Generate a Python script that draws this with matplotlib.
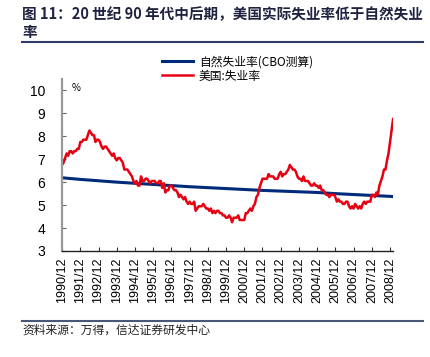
import numpy as np
import matplotlib
matplotlib.use("Agg")
import matplotlib.pyplot as plt
from matplotlib.lines import Line2D

plt.rcParams['font.family'] = ['Noto Sans CJK SC', 'DejaVu Sans']

# monthly data, 1990/12 .. 2009/02
red_1990 = [6.75]
red_1991 = [6.85, 7.05, 7.25, 7.15, 7.35, 7.35, 7.25, 7.35, 7.35, 7.45, 7.45, 7.75]
red_1992 = [7.75, 7.85, 7.85, 7.85, 8.05, 8.25, 8.15, 8.05, 8.05, 7.75, 7.85, 7.85]
red_1993 = [7.75, 7.55, 7.45, 7.55, 7.55, 7.45, 7.35, 7.25, 7.15, 7.25, 7.05, 6.95]
red_1994 = [7.05, 7.05, 6.95, 6.85, 6.55, 6.55, 6.55, 6.45, 6.35, 6.25, 6.05, 5.95]
red_1995 = [6.05, 5.85, 5.85, 6.25, 6.05, 6.05, 6.15, 6.15, 6.05, 5.95, 6.05, 6.05]
red_1996 = [6.05, 5.95, 5.95, 6.05, 6.05, 5.75, 5.95, 5.55, 5.65, 5.65, 5.85, 5.85]
red_1997 = [5.75, 5.65, 5.65, 5.55, 5.35, 5.45, 5.35, 5.25, 5.35, 5.15, 5.05, 5.15]
red_1998 = [5.05, 5.05, 5.15, 4.75, 4.85, 4.95, 4.95, 4.95, 5.05, 4.95, 4.85, 4.85]
red_1999 = [4.75, 4.85, 4.65, 4.75, 4.65, 4.75, 4.75, 4.65, 4.65, 4.55, 4.55, 4.45]
red_2000 = [4.45, 4.55, 4.45, 4.25, 4.45, 4.45, 4.45, 4.55, 4.35, 4.35, 4.35, 4.35]
red_2001 = [4.65, 4.65, 4.75, 4.85, 4.75, 4.95, 5.05, 5.35, 5.45, 5.75, 5.95, 6.15]
red_2002 = [6.15, 6.15, 6.15, 6.35, 6.25, 6.25, 6.25, 6.15, 6.15, 6.15, 6.35, 6.45]
red_2003 = [6.25, 6.35, 6.35, 6.45, 6.55, 6.75, 6.65, 6.55, 6.55, 6.45, 6.25, 6.15]
red_2004 = [6.15, 6.05, 6.25, 6.05, 6.05, 6.05, 5.95, 5.85, 5.85, 5.95, 5.85, 5.85]
red_2005 = [5.75, 5.85, 5.65, 5.65, 5.55, 5.45, 5.45, 5.35, 5.45, 5.45, 5.45, 5.35]
red_2006 = [5.15, 5.25, 5.15, 5.15, 5.05, 5.05, 5.15, 5.15, 4.95, 4.85, 4.95, 4.85]
red_2007 = [5.05, 4.95, 4.85, 4.95, 4.85, 5.05, 5.15, 5.05, 5.15, 5.15, 5.15, 5.45]
red_2008 = [5.45, 5.35, 5.55, 5.45, 5.85, 6.05, 6.25, 6.55, 6.55, 6.95, 7.25, 7.75]
red_2009 = [8.25, 8.75]

unemp = (red_1990 + red_1991 + red_1992 + red_1993 + red_1994 + red_1995 + red_1996
         + red_1997 + red_1998 + red_1999 + red_2000 + red_2001 + red_2002 + red_2003
         + red_2004 + red_2005 + red_2006 + red_2007 + red_2008 + red_2009)

# CBO natural rate, read at each December (last point 2009/02)
nat_months = [0, 12, 24, 36, 48, 60, 72, 84, 96, 108, 120, 132, 144, 156, 168, 180, 192, 204, 216, 218]
nat_rate = [6.19, 6.12, 6.06, 6.00, 5.95, 5.90, 5.85, 5.80, 5.76, 5.72, 5.68, 5.64,
            5.61, 5.58, 5.55, 5.50, 5.46, 5.42, 5.38, 5.37]

tick_labels = [f"{y}/12" for y in range(1990, 2009)]
tick_pos = [12 * i for i in range(len(tick_labels))]

months = np.arange(len(unemp))

fig = plt.figure(figsize=(4.31, 3.57), dpi=100)
ax = fig.add_axes([0.144, 0.297, 0.768, 0.482])

ax.plot(nat_months, nat_rate, color='#002a7a', lw=2.2, label='自然失业率(CBO测算)')
ax.plot(months, unemp, color='#e60012', lw=1.8, label='美国:失业率')

ax.set_xlim(0, 218)
ax.set_ylim(3, 10.5)
ax.set_yticks(range(3, 11))
ax.set_xticks(tick_pos)
ax.set_xticklabels(tick_labels, rotation=90, fontsize=9, family='Liberation Sans')
for lab in ax.get_yticklabels():
    lab.set_family('Liberation Sans')
    lab.set_fontsize(10)
ax.tick_params(axis='y', direction='in', length=3, pad=12, color='#666666')
ax.tick_params(axis='x', direction='in', length=3, pad=5, color='#333333')

for s in ['top', 'right']:
    ax.spines[s].set_visible(False)
ax.spines['left'].set_color('#999999')
ax.spines['left'].set_linewidth(1.6)
ax.spines['bottom'].set_color('#222222')
ax.spines['bottom'].set_linewidth(1.0)

ax.text(0.03, 0.95, '%', transform=ax.transAxes, fontsize=7, va='center')

leg = ax.legend(loc='upper left', bbox_to_anchor=(0.375, 0.845), bbox_transform=fig.transFigure,
                frameon=False, fontsize=8.5, handlelength=2.7, handletextpad=0.45,
                labelspacing=0.1, borderpad=0, borderaxespad=0)

title_font = dict(fontsize=10.5, fontweight='bold', color='#1f2240', va='center')
fig.text(0.051, 1 - 14 / 357, '图 11：20 世纪 90 年代中后期，美国实际失业率低于自然失业', **title_font)
fig.text(0.051, 1 - 32 / 357, '率', **title_font)
fig.add_artist(Line2D([0.051, 0.982], [0.882, 0.882], color='#2d3a6b', lw=1.5))
fig.add_artist(Line2D([0.051, 0.982], [0.102, 0.102], color='#4a5878', lw=1.5))
fig.text(0.051, 0.075, '资料来源：万得，信达证券研发中心', fontsize=8.5, color='#222222', va='center')

fig.savefig('out.png', dpi=100)
